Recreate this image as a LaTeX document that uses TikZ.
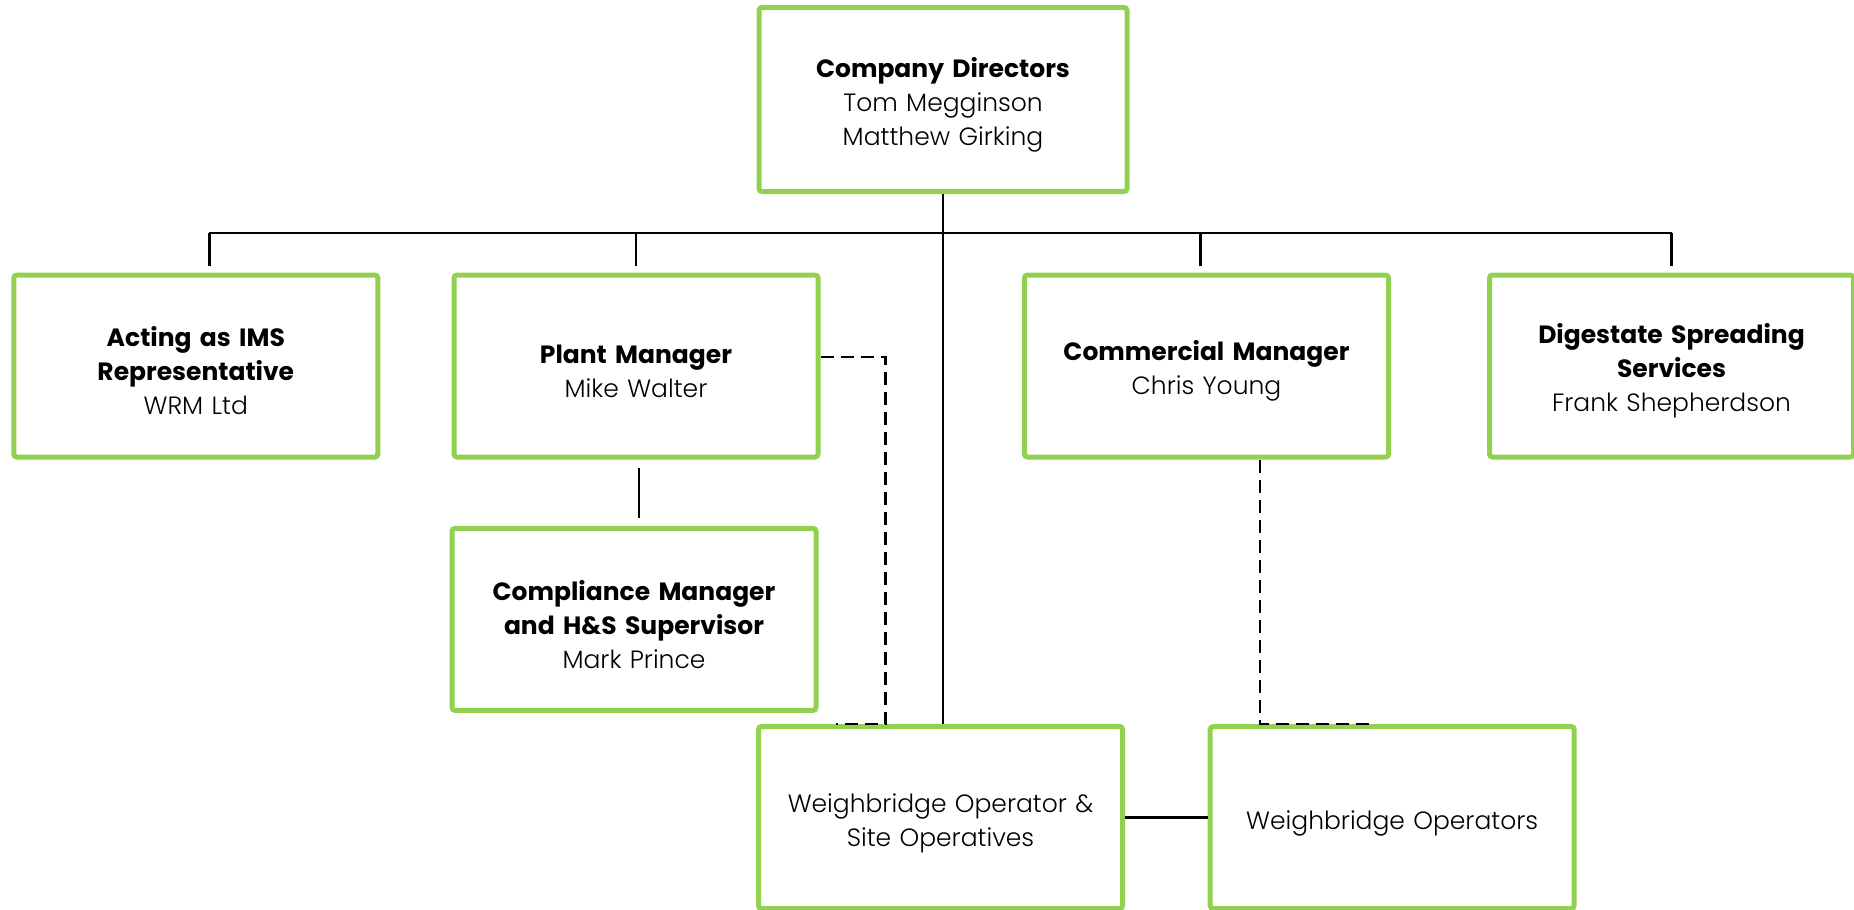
\documentclass[tikz,border=0pt]{standalone}
\usepackage{fontspec}
\setmainfont{Poppins}[UprightFont=* Light, BoldFont=* Bold]
\usetikzlibrary{positioning}

\definecolor{boxgreen}{HTML}{92D050}

\tikzset{
  rolebox/.style={draw=boxgreen, line width=2.5pt, rounded corners=1.5pt,
    rectangle, align=center, inner sep=2pt, text width=178pt,
    minimum height=91pt,
    font=\fontsize{12.5}{17}\selectfont,
    execute at begin node={\rule{0pt}{15pt}}},
  link/.style={line width=1.2pt},
  dashlink/.style={line width=1.1pt, dash pattern=on 6.5pt off 3.5pt}
}

\begin{document}
\begin{tikzpicture}
\useasboundingbox (0,0) rectangle (927pt,-455pt);

% top of the chart
\node (directors) [rolebox, text width=180pt, minimum height=92pt]
  at (471.5pt,-49.75pt)
  {\textbf{Company Directors}\\Tom Megginson\\Matthew Girking};

% managers row
\node (plant) [rolebox, below=39.25pt of directors, xshift=-153.5pt]
  {\textbf{Plant Manager}\\Mike Walter};
\node (ims) [rolebox, left=35.6pt of plant]
  {\textbf{Acting as IMS}\\\textbf{Representative}\\WRM Ltd};
\node (commercial) [rolebox, below=39.25pt of directors, xshift=131.75pt]
  {\textbf{Commercial Manager}\\Chris Young};
\node (digestate) [rolebox, right=48pt of commercial]
  {\textbf{Digestate Spreading}\\\textbf{Services}\\Frank Shepherdson};

% lower boxes
\node (compliance) [rolebox, below=33.2pt of plant, xshift=-1pt]
  {\textbf{Compliance Manager}\\\textbf{and H\&S Supervisor}\\Mark Prince};
\node (wos) [rolebox, below=265pt of directors, xshift=-1.25pt]
  {Weighbridge Operator \&\\Site Operatives};
\node (wo) [rolebox, right=41.35pt of wos]
  {Weighbridge Operators};

% solid lines
\coordinate [below=19.5pt of directors.south] (bus);
\draw[link] (directors.south) -- (directors.south |- wos.north);
\draw[link] ([xshift=6.8pt]ims.north |- bus) -- (digestate.north |- bus);
\draw[link] ([xshift=6.8pt]ims.north |- bus) -- ([xshift=6.8pt, yshift=3.5pt]ims.north);
\draw[link] ([xshift=-3pt]commercial.north |- bus) -- ([xshift=-3pt, yshift=3.5pt]commercial.north);
\foreach \n in {plant, digestate}
  \draw[link] (\n.north |- bus) -- ([yshift=3.5pt]\n.north);
\draw[link, shorten <=4pt, shorten >=4pt] ([xshift=1.5pt]plant.south)
  -- ([xshift=1.5pt]plant.south |- compliance.north);
\draw[link] (wos.east) -- (wo.west);

% dashed lines
\coordinate (dashturn) at ([xshift=64.75pt]wos.north west);
\draw[dashlink] ([yshift=4.5pt]plant.east) -| (dashturn)
  -- ([xshift=39.75pt]wos.north west);
\draw[dashlink] ([xshift=26.75pt]commercial.south)
  |- ([xshift=82.4pt]wo.north west);
\end{tikzpicture}
\end{document}
